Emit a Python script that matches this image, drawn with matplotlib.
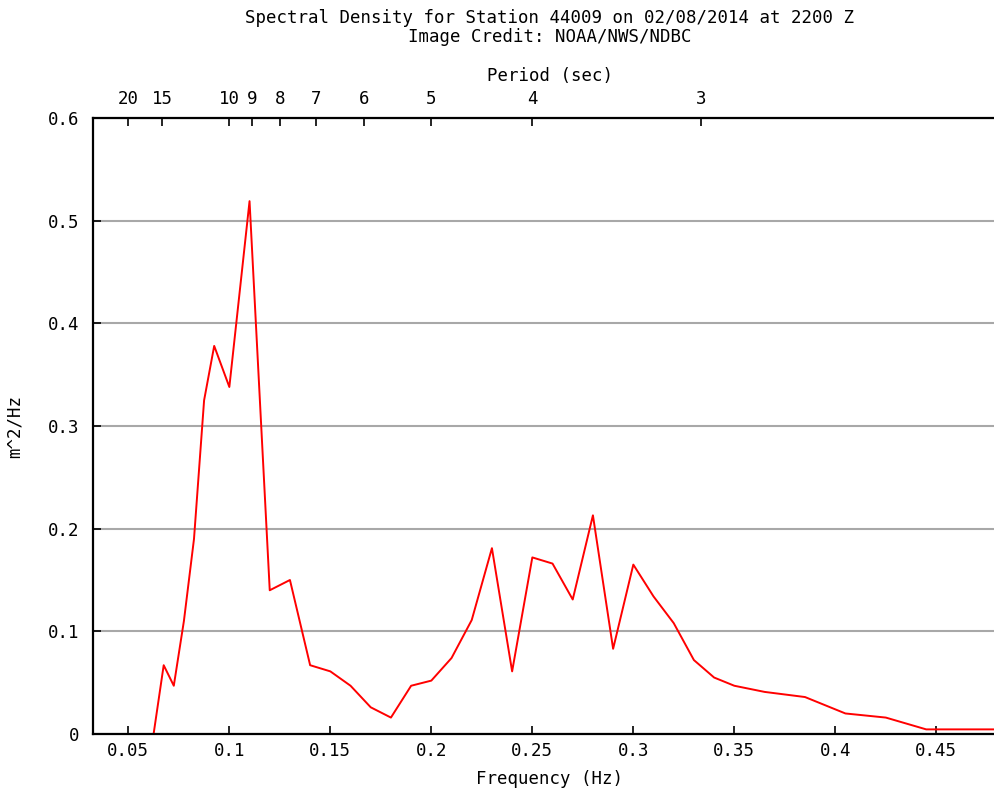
import matplotlib
matplotlib.use("Agg")
import matplotlib.pyplot as plt

# ---- data ----
freqs = [0.0325, 0.0375, 0.0425, 0.0475, 0.0525, 0.0575, 0.0625, 0.0675, 0.0725,
         0.0775, 0.0825, 0.0875, 0.0925, 0.100, 0.110, 0.120, 0.130, 0.140, 0.150,
         0.160, 0.170, 0.180, 0.190, 0.200, 0.210, 0.220, 0.230, 0.240, 0.250,
         0.260, 0.270, 0.280, 0.290, 0.300, 0.310, 0.320, 0.330, 0.340, 0.350,
         0.365, 0.385, 0.405, 0.425, 0.445, 0.465, 0.485]
density = [0, 0, 0, 0, 0, 0, 0, 0.067, 0.047,
           0.11, 0.19, 0.325, 0.378, 0.338, 0.519, 0.14, 0.15, 0.067, 0.061,
           0.047, 0.026, 0.016, 0.047, 0.052, 0.074, 0.111, 0.181, 0.061, 0.172,
           0.166, 0.131, 0.213, 0.083, 0.165, 0.134, 0.108, 0.072, 0.055, 0.047,
           0.041, 0.036, 0.020, 0.016, 0.0045, 0.0045, 0.0045]

freq_ticks = [0.05, 0.1, 0.15, 0.2, 0.25, 0.3, 0.35, 0.4, 0.45]
freq_labels = ["0.05", "0.1", "0.15", "0.2", "0.25", "0.3", "0.35", "0.4", "0.45"]
y_ticks = [0, 0.1, 0.2, 0.3, 0.4, 0.5, 0.6]
y_labels = ["0", "0.1", "0.2", "0.3", "0.4", "0.5", "0.6"]
periods = [20, 15, 10, 9, 8, 7, 6, 5, 4, 3]

title1 = "Spectral Density for Station 44009 on 02/08/2014 at 2200 Z"
title2 = "Image Credit: NOAA/NWS/NDBC"

# ---- style ----
plt.rcParams['font.family'] = ['DejaVu Sans Mono']
FS = 12.5

W, H = 995, 792
fig = plt.figure(figsize=(W / 100, H / 100), dpi=100)
fig.patch.set_facecolor('white')

left_px, right_px, top_px, bottom_px = 93, 1007, 118, 734
ax = fig.add_axes([left_px / W, 1 - bottom_px / H,
                   (right_px - left_px) / W, (bottom_px - top_px) / H])

ax.plot(freqs, density, color='#ff0000', linewidth=1.4, zorder=2)

ax.set_xlim(0.0325, 0.485)
ax.set_ylim(0, 0.6)

ax.set_xticks(freq_ticks)
ax.set_xticklabels(freq_labels, fontsize=FS)
ax.set_yticks(y_ticks)
ax.set_yticklabels(y_labels, fontsize=FS)
ax.tick_params(axis='x', direction='in', length=6, width=1.2, pad=6, color='black')
ax.tick_params(axis='y', direction='in', length=6, width=1.2, pad=10, color='black')

ax.yaxis.grid(True, color='#a8a8a8', linewidth=1.5, zorder=1)
ax.set_axisbelow(True)

for s in ax.spines.values():
    s.set_linewidth(1.6)
    s.set_color('black')
    s.set_zorder(3)

ax.set_xlabel("Frequency (Hz)", fontsize=FS, labelpad=7)
ax.set_ylabel("m^2/Hz", fontsize=FS, labelpad=17)

# top period axis
ax2 = ax.twiny()
ax2.set_xlim(ax.get_xlim())
ax2.set_xticks([1.0 / p for p in periods])
ax2.set_xticklabels([str(p) for p in periods], fontsize=FS)
ax2.tick_params(axis='x', direction='in', length=6, width=1.2, pad=7, color='black')
ax2.set_xlabel("Period (sec)", fontsize=FS, labelpad=7)
for s in ax2.spines.values():
    s.set_visible(False)

cx = (left_px + right_px) / 2 / W
fig.text(cx, 1 - 18 / H, title1, ha='center', va='center', fontsize=FS)
fig.text(cx, 1 - 37 / H, title2, ha='center', va='center', fontsize=FS)

fig.savefig("out.png", dpi=100, facecolor='white')
